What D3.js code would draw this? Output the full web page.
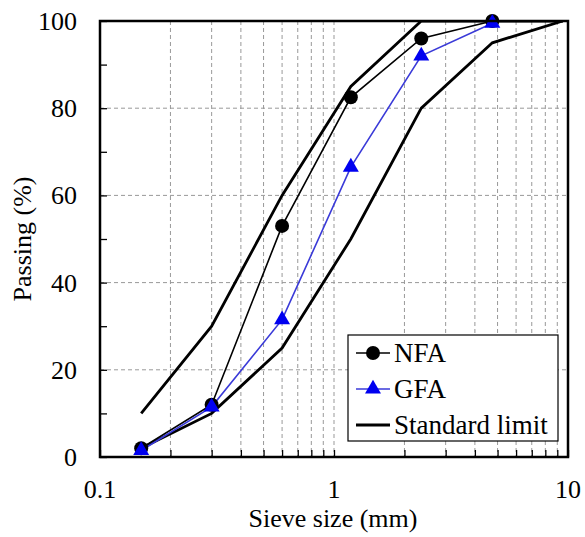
<!DOCTYPE html>
<html>
<head>
<meta charset="utf-8">
<script src="https://cdn.jsdelivr.net/npm/d3@7"></script>
<style>
  body { margin: 0; background: #fff; }
</style>
</head>
<body>
<div id="chart"></div>
<script>
// sieve sizes (mm)
var sieves = [0.15, 0.3, 0.6, 1.18, 2.36, 4.75];
var nfa = [2, 12, 53, 82.5, 96, 100];
var gfa = [1.5, 11.5, 31.5, 66.5, 92, 99.5];

var upperSieves = [0.15, 0.3, 0.6, 1.18, 2.36, 4.75, 9.5];
var upperLimit = [10, 30, 60, 85, 100, 100, 100];
var lowerSieves = [0.15, 0.3, 0.6, 1.18, 2.36, 4.75, 9.5];
var lowerLimit = [2, 10, 25, 50, 80, 95, 100];

var xTicks = [0.1, 1, 10];
var yTicks = [0, 20, 40, 60, 80, 100];

var width = 585, height = 537;
var mLeft = 100, mRight = 568, mTop = 21, mBottom = 457;
var serif = "'Liberation Serif', 'Times New Roman', Times, 'DejaVu Serif', serif";

var svg = d3.select("#chart").append("svg")
    .attr("width", width)
    .attr("height", height)
    .attr("font-family", serif);

var x = d3.scaleLog().domain([0.1, 10]).range([mLeft, mRight]);
var y = d3.scaleLinear().domain([0, 100]).range([mBottom, mTop]);

// minor log values for grid
var minor = [];
[0.1, 1].forEach(function (dec) {
    for (var k = 2; k <= 9; k++) minor.push(dec * k);
});

var grid = svg.append("g");
grid.selectAll("line.vg")
    .data(minor.concat([1]))
    .enter().append("line")
    .attr("x1", function (d) { return x(d); })
    .attr("x2", function (d) { return x(d); })
    .attr("y1", mTop).attr("y2", mBottom)
    .style("stroke", "#999").style("stroke-width", 1)
    .style("stroke-dasharray", "4,3");
grid.selectAll("line.hg")
    .data([20, 40, 60, 80])
    .enter().append("line")
    .attr("x1", mLeft).attr("x2", mRight)
    .attr("y1", function (d) { return y(d); })
    .attr("y2", function (d) { return y(d); })
    .style("stroke", "#999").style("stroke-width", 1)
    .style("stroke-dasharray", "4,3");

// axes with inward ticks
var xAxis = d3.axisBottom(x).tickValues(minor.concat(xTicks)).tickSize(-7).tickFormat("");
svg.append("g").attr("transform", "translate(0," + mBottom + ")").call(xAxis)
    .call(function (g) { g.select(".domain").remove(); g.selectAll("line").style("stroke", "#000").style("stroke-width", 1.3); });

var yAxis = d3.axisLeft(y).tickValues(d3.range(0, 101, 10)).tickSize(-7).tickFormat("");
svg.append("g").attr("transform", "translate(" + mLeft + ",0)").call(yAxis)
    .call(function (g) { g.select(".domain").remove(); g.selectAll("line").style("stroke", "#000").style("stroke-width", 1.3); });

svg.selectAll("text.xt")
    .data(xTicks).enter().append("text")
    .attr("x", function (d) { return x(d); })
    .attr("y", 498)
    .attr("text-anchor", "middle")
    .style("font-family", serif)
    .style("font-size", "26px")
    .text(function (d) { return d; });

svg.selectAll("text.yt")
    .data(yTicks).enter().append("text")
    .attr("x", 77)
    .attr("y", function (d) { return y(d) + 9; })
    .attr("text-anchor", "end")
    .style("font-family", serif)
    .style("font-size", "26px")
    .text(function (d) { return d; });

svg.append("text")
    .attr("x", 333)
    .attr("y", 527)
    .attr("text-anchor", "middle")
    .style("font-family", serif)
    .style("font-size", "26px")
    .text("Sieve size (mm)");

svg.append("text")
    .attr("transform", "translate(31," + ((mTop + mBottom) / 2) + ") rotate(-90)")
    .attr("text-anchor", "middle")
    .style("font-family", serif)
    .style("font-size", "26px")
    .text("Passing (%)");

var line = d3.line()
    .x(function (d) { return x(d[0]); })
    .y(function (d) { return y(d[1]); });

function pairs(xs, ys) { return xs.map(function (v, i) { return [v, ys[i]]; }); }

svg.append("clipPath").attr("id", "clip").append("rect")
    .attr("x", mLeft).attr("y", mTop).attr("width", mRight - mLeft).attr("height", mBottom - mTop);

var plot = svg.append("g").attr("clip-path", "url(#clip)");

plot.append("path").datum(pairs(upperSieves, upperLimit)).attr("d", line)
    .style("fill", "none").style("stroke", "#000").style("stroke-width", 2.8);
plot.append("path").datum(pairs(lowerSieves, lowerLimit)).attr("d", line)
    .style("fill", "none").style("stroke", "#000").style("stroke-width", 2.8);

svg.append("path").datum(pairs(sieves, nfa)).attr("d", line)
    .style("fill", "none").style("stroke", "#000").style("stroke-width", 1.6);
svg.append("path").datum(pairs(sieves, gfa)).attr("d", line)
    .style("fill", "none").style("stroke", "#3a3ad8").style("stroke-width", 1.6);

svg.selectAll("circle.nfa").data(pairs(sieves, nfa)).enter().append("circle")
    .attr("cx", function (d) { return x(d[0]); })
    .attr("cy", function (d) { return y(d[1]); })
    .attr("r", 7).style("fill", "#000");

var tri = d3.symbol().type(d3.symbolTriangle).size(110);
svg.selectAll("path.gfa").data(pairs(sieves, gfa)).enter().append("path")
    .attr("d", tri)
    .attr("transform", function (d) { return "translate(" + x(d[0]) + "," + y(d[1]) + ")"; })
    .style("fill", "#0000f0");

// frame
svg.append("rect").attr("x", mLeft).attr("y", mTop)
    .attr("width", mRight - mLeft).attr("height", mBottom - mTop)
    .style("fill", "none").style("stroke", "#000").style("stroke-width", 2.5);

// legend
var lg = svg.append("g");
lg.append("rect").attr("x", 348).attr("y", 335).attr("width", 210).attr("height", 106)
    .style("fill", "#fff").style("stroke", "#000").style("stroke-width", 1.2);
var items = [
    { name: "NFA", color: "#000", mark: "circle", w: 1.6 },
    { name: "GFA", color: "#3a3ad8", mark: "tri", w: 1.6 },
    { name: "Standard limit", color: "#000", mark: null, w: 2.8 }
];
items.forEach(function (it, i) {
    var cy = 353 + i * 36;
    lg.append("line").attr("x1", 356).attr("x2", 390).attr("y1", cy).attr("y2", cy)
        .style("stroke", it.color).style("stroke-width", it.w);
    if (it.mark === "circle") {
        lg.append("circle").attr("cx", 373).attr("cy", cy).attr("r", 7).style("fill", "#000");
    } else if (it.mark === "tri") {
        lg.append("path").attr("d", tri).attr("transform", "translate(373," + cy + ")").style("fill", "#0000f0");
    }
    lg.append("text").attr("x", 394).attr("y", cy + 9)
        .style("font-family", serif)
        .style("font-size", "27px").text(it.name);
});
</script>
</body>
</html>
